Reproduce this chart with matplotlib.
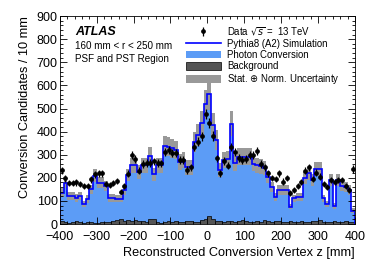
import numpy as np
import matplotlib
matplotlib.use('Agg')
import matplotlib.pyplot as plt
from matplotlib.lines import Line2D
from matplotlib.patches import Patch

plt.rcParams['font.family'] = ['Liberation Sans', 'DejaVu Sans']

# bordes de los bins (10 mm)
edges = np.arange(-400, 401, 10)
centers = edges[:-1] + 5

# datos
data = [232, 198, 178, 178, 180, 172, 166, 164, 193, 215,
        219, 219, 172, 170, 178, 185, 140, 165, 218, 300,
        280, 231, 260, 265, 265, 271, 265, 263, 313, 320,
        309, 306, 277, 277, 234, 245, 335, 356, 380, 478,
        438, 381, 284, 220, 272, 252, 334, 312, 286, 277,
        280, 297, 300, 315, 260, 245, 219, 199, 196, 219,
        184, 199, 135, 147, 164, 183, 231, 245, 196, 222,
        205, 173, 159, 190, 183, 190, 190, 164, 147, 238]

# simulacion total (Pythia8)
sim = [135, 178, 122, 122, 112, 122, 85, 108, 150, 210,
       178, 178, 165, 112, 112, 110, 110, 148, 212, 255,
       255, 226, 255, 255, 296, 216, 255, 255, 338, 335,
       327, 320, 270, 277, 245, 245, 356, 385, 436, 518,
       561, 430, 363, 234, 277, 280, 435, 265, 291, 291,
       291, 291, 262, 255, 250, 241, 205, 161, 118, 147,
       147, 147, 75, 111, 118, 118, 198, 219, 190, 237,
       237, 111, 85, 190, 78, 190, 165, 160, 148, 58]

# fondo
bkg = [12, 8, 6, 10, 12, 8, 6, 10, 8, 4,
       6, 10, 8, 10, 14, 18, 20, 14, 18, 12,
       16, 12, 14, 10, 22, 24, 8, 6, 10, 12,
       8, 14, 10, 8, 12, 14, 10, 8, 16, 20,
       34, 24, 14, 12, 10, 14, 12, 10, 14, 16,
       12, 8, 10, 14, 8, 18, 12, 10, 12, 14,
       10, 8, 12, 10, 8, 12, 10, 10, 12, 14,
       16, 10, 8, 10, 12, 10, 8, 12, 10, 8]

norm_unc = 0.11  # incertidumbre de normalizacion

data = np.array(data, dtype=float)
sim = np.array(sim, dtype=float)
bkg = np.array(bkg, dtype=float)
unc = np.sqrt(sim + (norm_unc * sim) ** 2)

fig = plt.figure(figsize=(3.74, 2.68), dpi=100)
ax = fig.add_axes([0.160, 0.164, 0.789, 0.776])

c_conv = '#5c9cf6'
c_band = '#999999'
c_bkg = '#555555'

ax.stairs(sim, edges, fill=True, color=c_conv, lw=0)
ax.stairs(sim + unc, edges, baseline=sim - unc, fill=True, color=c_band, lw=0)
ax.stairs(bkg, edges, fill=True, facecolor=c_bkg, edgecolor='black', lw=0.5)
ax.stairs(sim, edges, color='#0000ff', lw=1.2)
ax.errorbar(centers, data, yerr=np.sqrt(data), fmt='o', color='black',
            ms=2.4, elinewidth=0.9, capsize=0)

ax.set_xlim(-400, 400)
ax.set_ylim(0, 900)
ax.set_xticks(np.arange(-400, 401, 100))
ax.set_yticks(np.arange(0, 901, 100))
ax.set_xticks(np.arange(-400, 401, 20), minor=True)
ax.set_yticks(np.arange(0, 901, 20), minor=True)
ax.tick_params(which='both', direction='in', top=True, right=True, labelsize=9)
ax.tick_params(axis='x', pad=5)
ax.tick_params(axis='y', pad=1.5)
ax.tick_params(which='major', length=5, width=0.6)
ax.tick_params(which='minor', length=2.5, width=0.6)
for s in ax.spines.values():
    s.set_linewidth(0.6)

ax.set_xlabel('Reconstructed Conversion Vertex z [mm]', fontsize=9.2, loc='right', labelpad=3)
ax.set_ylabel('Conversion Candidates / 10 mm', fontsize=9.2, loc='top', labelpad=4)

ax.text(0.052, 0.925, 'ATLAS', transform=ax.transAxes, fontsize=9,
        fontweight='bold', fontstyle='italic', va='center')
ax.text(0.052, 0.858, '160 mm < r < 250 mm', transform=ax.transAxes, fontsize=7.1, va='center')
ax.text(0.052, 0.795, 'PSF and PST Region', transform=ax.transAxes, fontsize=7.1, va='center')

h_data = ax.errorbar([], [], yerr=[], fmt='o', color='black', ms=2.4, elinewidth=0.9)
handles = [h_data,
           Line2D([], [], color='#0000ff', lw=1.2),
           Patch(facecolor=c_conv, edgecolor='none'),
           Patch(facecolor=c_bkg, edgecolor='black', lw=0.5),
           Patch(facecolor=c_band, edgecolor='none')]
labels = ['Data $\\sqrt{s}$ =  13 TeV', 'Pythia8 (A2) Simulation', 'Photon Conversion',
          'Background', 'Stat. $\\oplus$ Norm. Uncertainty']
ax.legend(handles, labels, loc='upper left', bbox_to_anchor=(0.425, 0.962), frameon=False,
          fontsize=6.9, handlelength=3.6, handleheight=0.9, handletextpad=0.7,
          labelspacing=0.12, borderaxespad=0, borderpad=0.1)

fig.savefig('out.png', dpi=100)
